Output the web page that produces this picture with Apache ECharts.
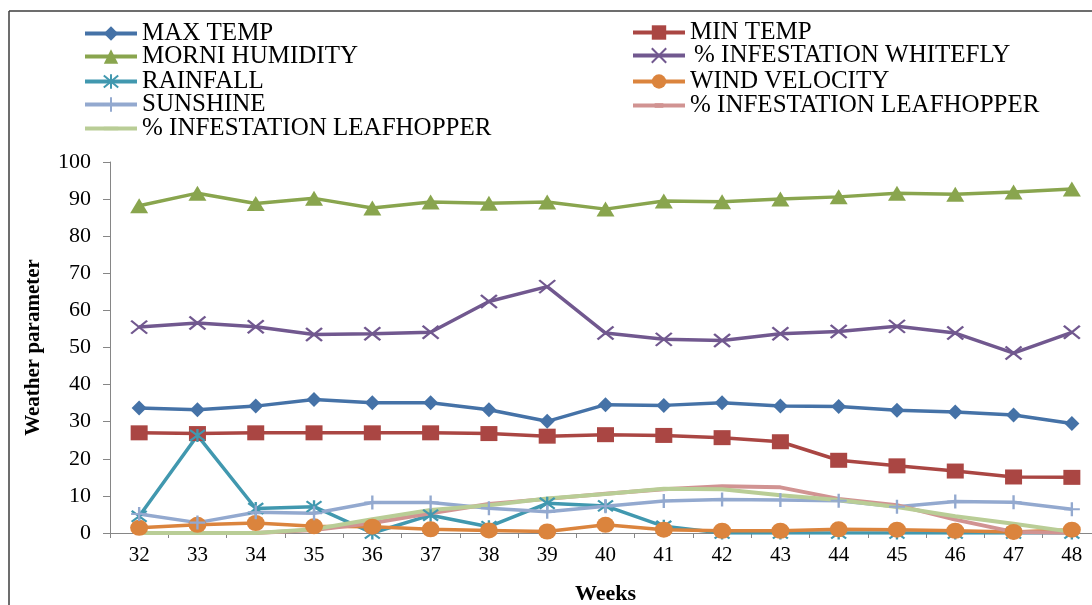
<!DOCTYPE html>
<html>
<head>
<meta charset="utf-8">
<script src="https://cdn.jsdelivr.net/npm/echarts@6/dist/echarts.min.js"></script>
<style>
html,body{margin:0;padding:0;background:#fff;}
#chart{width:1092px;height:605px;}
</style>
</head>
<body>
<div id="chart"></div>
<script>
const weeks = ['32','33','34','35','36','37','38','39','40','41','42','43','44','45','46','47','48'];
const yTicks = [0,10,20,30,40,50,60,70,80,90,100];

const maxTemp   = [33.7, 33.2, 34.2, 36.0, 35.1, 35.1, 33.2, 30.1, 34.6, 34.4, 35.1, 34.2, 34.1, 33.1, 32.6, 31.8, 29.5];
const minTemp   = [27.0, 26.8, 27.0, 27.0, 27.0, 27.0, 26.8, 26.1, 26.5, 26.3, 25.7, 24.6, 19.6, 18.1, 16.7, 15.1, 15.0];
const humidity  = [88.2, 91.6, 88.8, 90.2, 87.6, 89.2, 88.9, 89.2, 87.3, 89.5, 89.3, 90.0, 90.6, 91.6, 91.3, 91.9, 92.7];
const whitefly  = [55.5, 56.6, 55.6, 53.5, 53.7, 54.1, 62.4, 66.4, 53.9, 52.2, 51.9, 53.7, 54.3, 55.7, 53.9, 48.5, 54.1];
const rainfall  = [4.5, 26.3, 6.6, 7.1, 0, 4.8, 1.7, 8.0, 7.3, 1.8, 0, 0, 0, 0, 0, 0, 0];
const windVel   = [1.4, 2.2, 2.7, 1.8, 1.7, 1.0, 0.7, 0.4, 2.2, 0.9, 0.6, 0.6, 1.0, 0.9, 0.6, 0.3, 0.9];
const sunshine  = [5.1, 2.8, 5.6, 5.3, 8.2, 8.2, 6.7, 5.7, 7.2, 8.6, 9.0, 8.9, 8.7, 7.1, 8.5, 8.3, 6.4];
const leafPink  = [0, 0, 0, 0.8, 2.7, 5.3, 7.8, 9.2, 10.6, 11.8, 12.6, 12.3, 9.2, 7.5, 3.6, 0.3, 0.1];
const leafGreen = [0, 0, 0, 1.0, 3.7, 6.2, 7.5, 9.3, 10.5, 11.9, 11.8, 10.2, 8.9, 7.0, 4.5, 2.5, 0.3];

const names = ['MAX TEMP','MIN TEMP','MORNI HUMIDITY','% INFESTATION WHITEFLY','RAINFALL','WIND VELOCITY','SUNSHINE','% INFESTATION LEAFHOPPER','% INFESTATION LEAFHOPPER '];

const X_PATH = 'path://M0,0L10,10M10,0L0,10';
const STAR_PATH = 'path://M0,0L10,10M10,0L0,10M5,-1L5,11';
const PLUS_PATH = 'path://M5,0L5,10M0,5L10,5';
const PINK_DASH = 'path://M0,0M10,10M2,3.4L8,3.4L8,6.6L2,6.6Z';
const GREEN_DASH = 'path://M0,0M10,10M0,3.8L10,3.8L10,6.2L0,6.2Z';

function mk(name, data, color, symbol, size, width, stroke, hideSym) {
  const s = {
    name: name, type: 'line', data: data,
    symbol: symbol, symbolSize: size, showSymbol: !hideSym,
    lineStyle: {color: color, width: width},
    itemStyle: {color: color},
    emphasis: {disabled: true}
  };
  if (stroke) {
    s.itemStyle = {color: color, borderColor: color, borderWidth: 2.2};
  }
  return s;
}

const series = [
  mk(names[0], maxTemp, '#4572A7', 'diamond', 15, 3.5),
  mk(names[1], minTemp, '#AA4643', 'rect', [17,15], 3.5),
  mk(names[2], humidity, '#89A54E', 'triangle', [18,15], 3.5),
  mk(names[3], whitefly, '#71588F', X_PATH, [16,13], 3.5, true),
  mk(names[4], rainfall, '#4198AF', STAR_PATH, [15,13], 3.5, true),
  mk(names[5], windVel, '#DB843D', 'circle', [18,16], 3.5),
  mk(names[6], sunshine, '#93A9CF', PLUS_PATH, [16,14], 3.5, true),
  mk(names[7], leafPink, '#D19392', PINK_DASH, 12, 4, false, true),
  mk(names[8], leafGreen, '#B9CD96', GREEN_DASH, 14, 4, false, true)
];

const legendFont = {fontFamily: 'Liberation Serif', fontSize: 25, color: '#000'};
function lg(name, left, centerY, extra) {
  return Object.assign({
    data: [name], left: left, top: centerY - 9, padding: 0,
    itemWidth: 52, itemHeight: 18, selectedMode: false,
    lineStyle: {width: 4},
    formatter: function (n) { return n.trim(); },
    textStyle: Object.assign({}, legendFont)
  }, extra || {});
}

const legends = [
  lg(names[0], 83, 30),
  lg(names[2], 83, 53),
  lg(names[4], 83, 78),
  lg(names[6], 83, 101),
  lg(names[8], 83, 125),
  lg(names[1], 631, 29),
  lg(names[3], 631, 52, {textStyle: Object.assign({}, legendFont, {padding: [0, 0, 9, 4]})}),
  lg(names[5], 631, 78),
  lg(names[7], 631, 102)
];

const chart = echarts.init(document.getElementById('chart'), null, {renderer: 'canvas'});
chart.setOption({
  animation: false,
  backgroundColor: '#fff',
  legend: legends,
  grid: {left: 110, top: 162, width: 991, height: 371, containLabel: false, outerBoundsMode: 'none'},
  xAxis: {
    type: 'category', data: weeks, boundaryGap: true,
    name: 'Weeks', nameLocation: 'middle', nameGap: 50,
    nameTextStyle: {fontFamily: 'Liberation Serif', fontSize: 22, fontWeight: 'bold', color: '#000'},
    axisLine: {lineStyle: {color: '#868686', width: 1}},
    axisTick: {show: true, length: 5, alignWithLabel: false, lineStyle: {color: '#868686'}},
    axisLabel: {fontFamily: 'Liberation Serif', fontSize: 21, color: '#000', margin: 12},
    splitLine: {show: false}
  },
  yAxis: {
    type: 'value', min: 0, max: 100, interval: 10,
    name: 'Weather parameter', nameLocation: 'middle', nameGap: 66, nameRotate: 90,
    nameTextStyle: {fontFamily: 'Liberation Serif', fontSize: 21, fontWeight: 'bold', color: '#000'},
    axisLine: {show: true, lineStyle: {color: '#868686', width: 1}},
    axisTick: {show: true, length: 7, lineStyle: {color: '#868686'}},
    axisLabel: {fontFamily: 'Liberation Serif', fontSize: 22, color: '#000', margin: 19,
      formatter: function (v) { return yTicks.indexOf(v) >= 0 ? String(v) : ''; }},
    splitLine: {show: false}
  },
  graphic: [
    {type: 'line', shape: {x1: 9, y1: 11, x2: 1092, y2: 11}, style: {stroke: '#3c3c3c', lineWidth: 1.5}, silent: true},
    {type: 'line', shape: {x1: 9, y1: 11, x2: 9, y2: 605}, style: {stroke: '#3c3c3c', lineWidth: 1.5}, silent: true}
  ],
  series: series
});
</script>
</body>
</html>
